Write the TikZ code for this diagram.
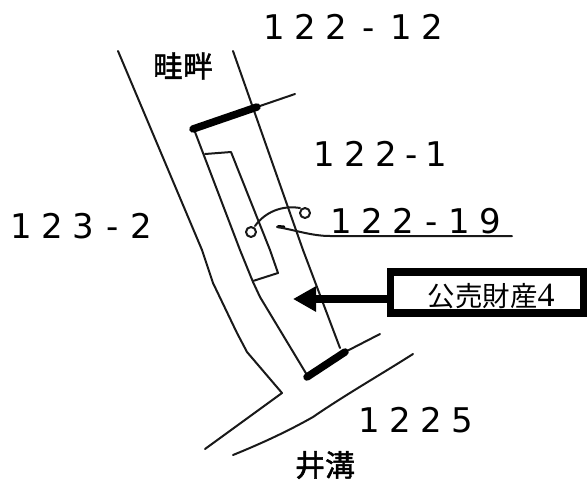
\documentclass[tikz,border=0pt]{standalone}
\usepackage{fontspec}
\usetikzlibrary{arrows.meta}
\setmainfont{Liberation Sans}
\newfontfamily\cjkfont{Noto Sans CJK JP}
\newfontfamily\placefont[FakeBold=1.5]{Noto Sans CJK JP}
\newfontfamily\lotno[LetterSpace=28]{DejaVu Sans}
\newfontfamily\serifdigit{Liberation Serif}
\newcommand{\lotdash}[1]{\hspace{#1}-\hspace{#1}}
\begin{document}
\begin{tikzpicture}[x=1pt,y=-1pt,
  lotlabel/.style={anchor=base west,inner sep=0pt,font=\fontsize{34}{34}\lotno},
  placelabel/.style={anchor=center,inner sep=0pt,font=\fontsize{30}{30}\placefont},
  thinline/.style={line width=2pt,line join=round,line cap=round,black!90},
  thickline/.style={line width=7.5pt,line cap=round,black},
  callout/.style={draw=black,line width=7.5pt,fill=white,minimum width=193pt,minimum height=41pt,inner sep=0pt}]
\useasboundingbox (0,0) rectangle (587,488);
% roads and parcel
\draw[thinline] (118,51) -- (202,250) -- (213,283) -- (237,333) -- (247,352) -- (282,393) -- (205,449);
\draw[thinline] (233,51) -- (303,250) -- (340,348);
\draw[thinline] (195,132) -- (240,250) -- (253,282) -- (260,297) -- (307,375);
\draw[thinline] (205,154) -- (231,152) -- (270,250) -- (278,273) -- (253,281);
\draw[thinline] (257,107) -- (295,94);
\draw[thinline] (345,352) -- (380,334);
\draw[thinline] (233,455) .. controls (265,442) and (290,430) .. (313,417) .. controls (345,395) and (380,375) .. (413,354);
\draw[thickline] (193,129) -- (257,107);
\draw[thickline] (307,377) -- (345,352);
% lot 122-19 marks
\draw[thinline] (251,232) circle (5);
\draw[thinline] (305,213) circle (5);
\draw[thinline] (255,226) .. controls (265,212) and (282,205) .. (300,208);
\draw[line width=3pt,black,line cap=round] (278,226.5) -- (284,227);
\draw[thinline] (277,227) .. controls (295,230) and (312,236) .. (330,236) -- (512,236);
% labels
\node[lotlabel] (a) at (263,39) {122\lotdash{15.5pt}12};
\node[lotlabel] (b) at (313,166) {122\lotdash{8pt}1};
\node[lotlabel] (c) at (330,233) {122\lotdash{11pt}19};
\node[lotlabel] (d) at (10,238) {123\lotdash{12pt}2};
\node[lotlabel] (e) at (358,432) {1225};
\node[placelabel] (f) at (183,66) {畦畔};
\node[placelabel] (g) at (325,465) {井溝};
% callout
\node[callout] (box) at (487,292.5) {};
\node[anchor=center,inner sep=0pt] (boxtext) at (491,296) {\fontsize{27.5}{27.5}\cjkfont 公売財産\fontsize{34}{34}\selectfont\serifdigit 4};
\coordinate (tip) at (293,299);
\draw[line width=8pt,-{Triangle[length=23pt,width=24pt]}] (box.west |- tip) -- (tip);
\end{tikzpicture}
\end{document}
